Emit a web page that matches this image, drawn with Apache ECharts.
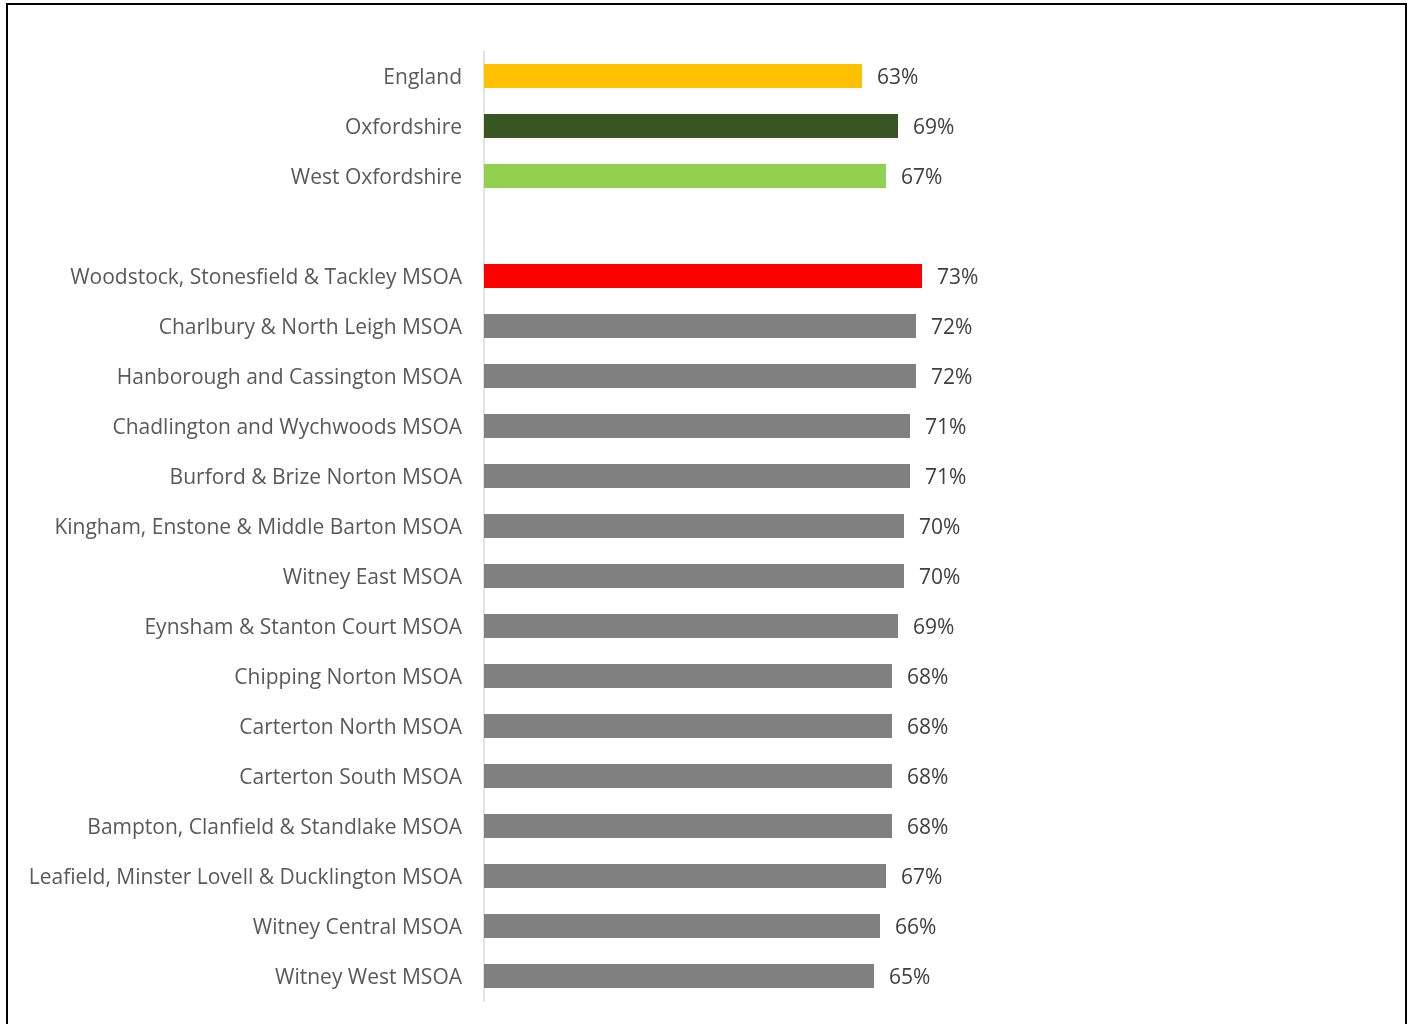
<!DOCTYPE html>
<html>
<head>
<meta charset="utf-8">
<script src="https://cdn.jsdelivr.net/npm/echarts@6/dist/echarts.min.js"></script>
<style>
  html, body { margin: 0; padding: 0; background: #fff; }
  #frame {
    position: absolute; left: 6px; top: 3px; width: 1401px; height: 1030px;
    border: 2px solid #000; box-sizing: border-box;
  }
  #chart { position: absolute; left: 0; top: 0; width: 1413px; height: 1024px; }
</style>
</head>
<body>
<div id="frame"></div>
<div id="chart"></div>
<script>
// 分类（空字符串为分隔行）
const areas = [
  'England',
  'Oxfordshire',
  'West Oxfordshire',
  '',
  'Woodstock, Stonesfield & Tackley MSOA',
  'Charlbury & North Leigh MSOA',
  'Hanborough and Cassington MSOA',
  'Chadlington and Wychwoods MSOA',
  'Burford & Brize Norton MSOA',
  'Kingham, Enstone & Middle Barton MSOA',
  'Witney East MSOA',
  'Eynsham & Stanton Court MSOA',
  'Chipping Norton MSOA',
  'Carterton North MSOA',
  'Carterton South MSOA',
  'Bampton, Clanfield & Standlake MSOA',
  'Leafield, Minster Lovell & Ducklington MSOA',
  'Witney Central MSOA',
  'Witney West MSOA'
]

const percents = [63, 69, 67, null, 73, 72, 72, 71, 71, 70, 70, 69, 68, 68, 68, 68, 67, 66, 65]

// 颜色
const highlight = {
  'England': '#FFC000',
  'Oxfordshire': '#375623',
  'West Oxfordshire': '#92D050',
  'Woodstock, Stonesfield & Tackley MSOA': '#FF0000'
}
const defaultColor = '#808080'

const chart = echarts.init(document.getElementById('chart'))

const option = {
  animation: false,
  grid: {
    left: 484,
    top: 51,
    width: 600,
    height: 950,
    containLabel: false
  },
  xAxis: {
    type: 'value',
    min: 0,
    max: 100,
    show: false
  },
  yAxis: {
    type: 'category',
    inverse: true,
    data: areas,
    axisLine: { show: true, lineStyle: { color: '#d9d9d9', width: 1.5 } },
    axisTick: { show: false },
    axisLabel: {
      margin: 22,
      formatter: v => '{t|' + v + '}',
      rich: {
        t: {
          color: '#595959',
          fontSize: 21,
          fontFamily: 'Open Sans',
          padding: [4, 0, 0, 0]
        }
      }
    }
  },
  series: [{
    type: 'bar',
    barWidth: 24,
    data: percents.map((v, i) => v == null ? '-' : {
      value: v,
      itemStyle: { color: highlight[areas[i]] || defaultColor }
    }),
    label: {
      show: true,
      position: 'right',
      distance: 15,
      offset: [0, 2],
      color: '#404040',
      fontSize: 21,
      fontFamily: 'Open Sans',
      formatter: p => p.value + '%'
    }
  }]
}

chart.setOption(option)
</script>
</body>
</html>
